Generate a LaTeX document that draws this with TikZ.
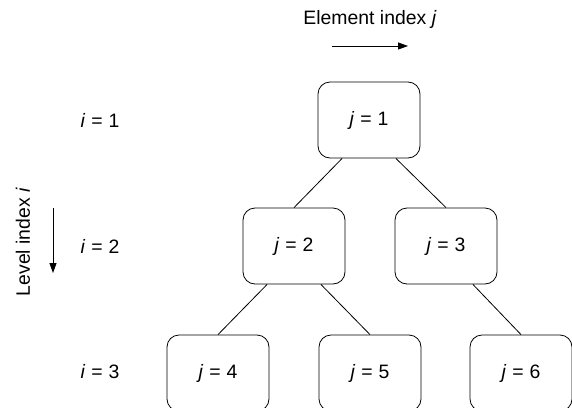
\documentclass[tikz,border=0pt]{standalone}
\usepackage{fontspec}
\setmainfont{Liberation Sans}
\usetikzlibrary{arrows.meta}

% "x = n" labels with slightly open spacing round the equals sign
\newcommand\eqlab[2]{\textit{#1}\hspace{0.31em}=\hspace{0.31em}#2}

\begin{document}
\begin{tikzpicture}[x=1pt, y=-1pt,
  font=\fontsize{19.4}{23}\selectfont,
  box/.style={draw, rounded corners=12pt, minimum width=102pt,
              minimum height=76pt, line width=0.8pt, inner sep=0pt},
  link/.style={line width=0.8pt},
  dirarrow/.style={line width=0.9pt, -{Triangle[length=10pt,width=7pt]}},
  lbl/.style={inner sep=0pt}]
  \useasboundingbox (0,0) rectangle (572,407);
  \clip (0,0) rectangle (572,407);

  % direction labels
  \node[lbl] (elem) at (370,19) {Element index \textit{j}};
  \coordinate (ea) at (332,46);
  \coordinate (eb) at (408,46);
  \draw[dirarrow] (ea) -- (eb);

  \node[lbl, rotate=90] (lev) at (23,242) {Level index \textit{i}};
  \coordinate (la) at (53,208);
  \coordinate (lb) at (53,273);
  \draw[dirarrow] (la) -- (lb);

  % level labels
  \node[lbl] (i1) at (100,120) {\eqlab{i}{1}};
  \node[lbl] (i2) at (100,246) {\eqlab{i}{2}};
  \node[lbl] (i3) at (100,372) {\eqlab{i}{3}};

  % tree nodes
  \node[box] (n1) at (369,120) {\eqlab{j}{1}};
  \node[box] (n2) at (294,246) {\eqlab{j}{2}};
  \node[box] (n3) at (446,246) {\eqlab{j}{3}};
  \node[box] (n4) at (218,373) {\eqlab{j}{4}};
  \node[box] (n5) at (370,373) {\eqlab{j}{5}};
  \node[box] (n6) at (521,373) {\eqlab{j}{6}};

  % tree edges
  \draw[link] (n1.-125) -- (n2.north);
  \draw[link] (n1.-55)  -- (n3.north);
  \draw[link] (n2.-125) -- (n4.north);
  \draw[link] (n2.-55)  -- (n5.north);
  \draw[link] (n3.-55)  -- (n6.north);
\end{tikzpicture}
\end{document}
